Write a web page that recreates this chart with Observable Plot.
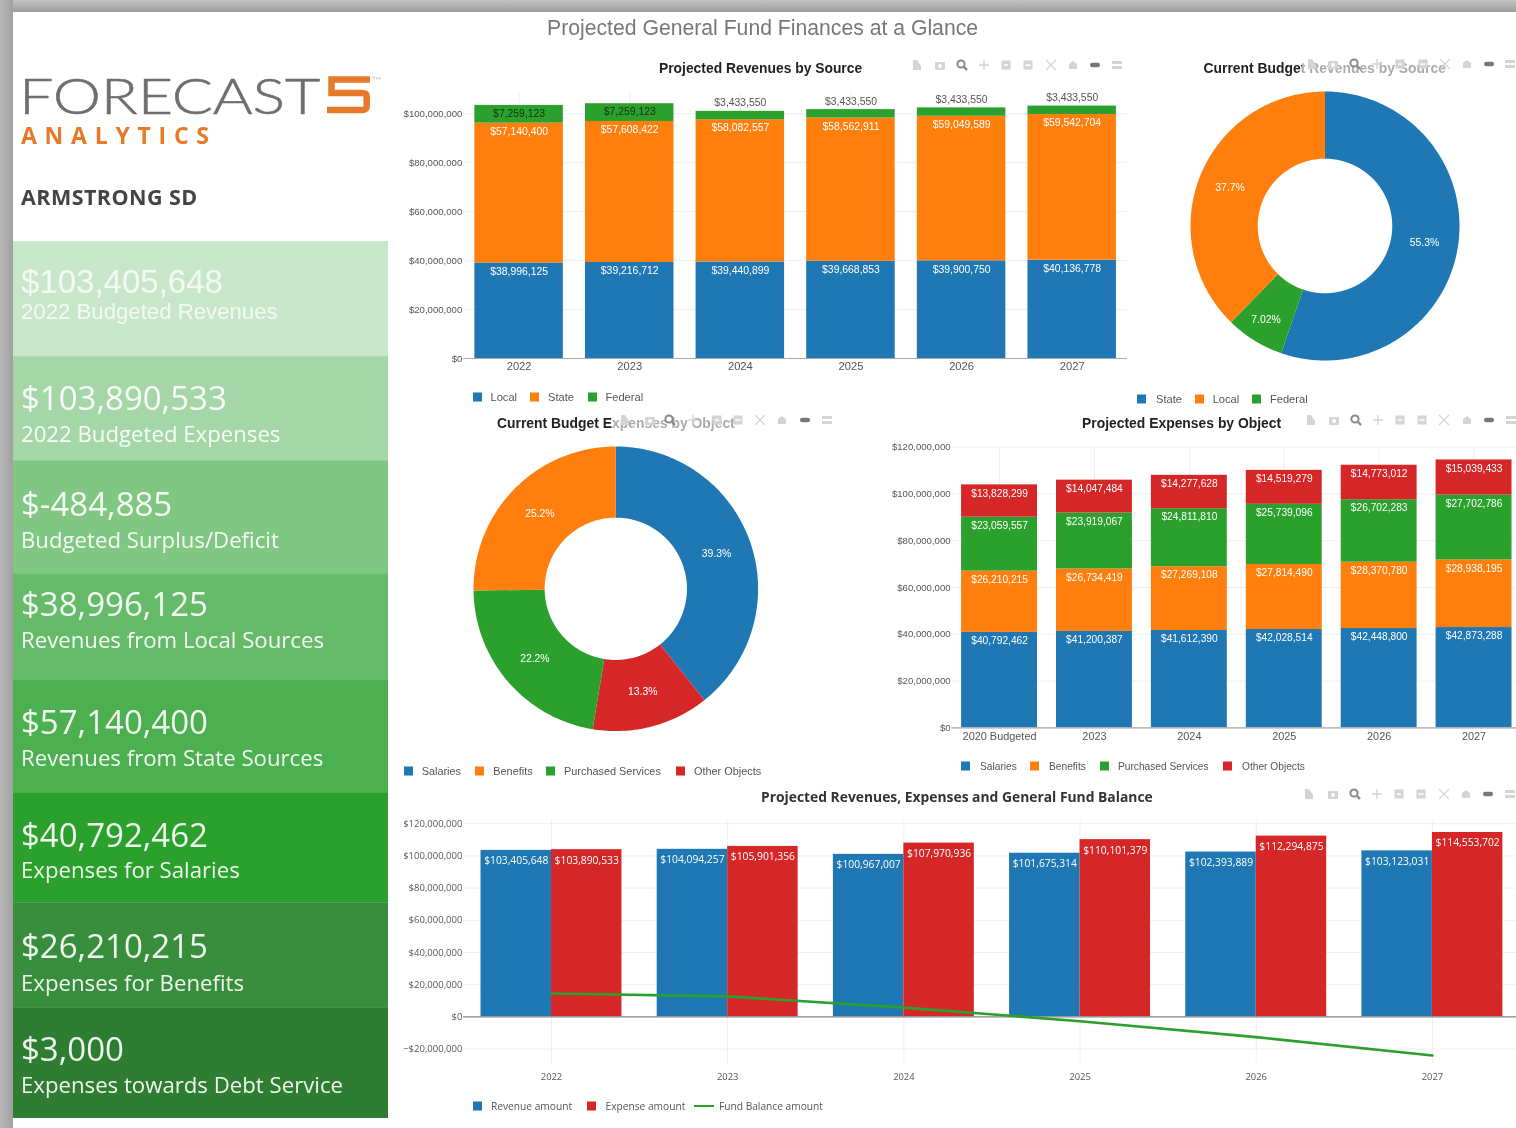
<!DOCTYPE html>
<html>
<head>
<meta charset="utf-8">
<script src="https://cdn.jsdelivr.net/npm/d3@7"></script>
<script src="https://cdn.jsdelivr.net/npm/@observablehq/plot@0.6"></script>
<style>
html,body{margin:0;padding:0;background:#fff;width:1516px;height:1128px;overflow:hidden}
#root{position:relative;width:1516px;height:1128px;overflow:hidden;filter:blur(.6px);font-family:"Liberation Sans",Arial,sans-serif}
.abs{position:absolute;white-space:nowrap;line-height:1;transform:translateY(-50%)}
.chart{position:absolute}
.chart svg{display:block;background:transparent;overflow:visible;max-width:none !important}
.panel{position:absolute;left:13px;width:375px;box-sizing:border-box;border-top:1px solid rgba(255,255,255,.14)}
.sq{position:absolute;width:9px;height:9px;transform:translateY(-50%)}
</style>
</head>
<body>
<div id="root"></div>
<script>
// ---------- data ----------
const blue = "#1f77b4", orange = "#ff7f0e", green = "#2ca02c", red = "#d62728";

const revenueYears = ["2022", "2023", "2024", "2025", "2026", "2027"];
const revenueLocal = [38996125, 39216712, 39440899, 39668853, 39900750, 40136778];
const revenueState = [57140400, 57608422, 58082557, 58562911, 59049589, 59542704];
const revenueFederal = [7259123, 7259123, 3433550, 3433550, 3433550, 3433550];

const expenseYears = ["2020 Budgeted", "2023", "2024", "2025", "2026", "2027"];
const expenseSalaries = [40792462, 41200387, 41612390, 42028514, 42448800, 42873288];
const expenseBenefits = [26210215, 26734419, 27269108, 27814490, 28370780, 28938195];
const expensePurchased = [23059557, 23919067, 24811810, 25739096, 26702283, 27702786];
const expenseOther = [13828299, 14047484, 14277628, 14519279, 14773012, 15039433];

const balanceYears = ["2022", "2023", "2024", "2025", "2026", "2027"];
const revenueAmount = [103405648, 104094257, 100967007, 101675314, 102393889, 103123031];
const expenseAmount = [103890533, 105901356, 107970936, 110101379, 112294875, 114553702];
const fundBalance = [14500000, 12700000, 5700000, -2700000, -12600000, -24000000];

const donutRevenueNames = ["State", "Federal", "Local"];
const donutRevenueValues = [55.3, 7.02, 37.7];
const donutRevenueColors = [blue, green, orange];

const donutExpenseNames = ["Salaries", "Other Objects", "Purchased Services", "Benefits"];
const donutExpenseValues = [39.3, 13.3, 22.2, 25.2];
const donutExpenseColors = [blue, red, green, orange];

const panelValues = ["$103,405,648", "$103,890,533", "$-484,885", "$38,996,125", "$57,140,400", "$40,792,462", "$26,210,215", "$3,000"];
const panelLabels = ["2022 Budgeted Revenues", "2022 Budgeted Expenses", "Budgeted Surplus/Deficit", "Revenues from Local Sources", "Revenues from State Sources", "Expenses for Salaries", "Expenses for Benefits", "Expenses towards Debt Service"];
const panelColors = ["#c8e6c9", "#a5d6a7", "#81c784", "#66bb6a", "#4caf50", "#2ca02c", "#388e3c", "#2e7d32"];
const panelTops = [241, 356, 460, 573, 679, 792, 902, 1006.5, 1118];
const panelValueY = [281, 397, 503, 603, 721, 834, 945, 1048];
const panelLabelY = [312, 434, 540, 640, 758, 870, 983, 1085];

// ---------- helpers ----------
const root = document.getElementById("root");
const SANS = "'Liberation Sans',Arial,sans-serif";
const OPEN = "'Open Sans','Noto Sans',sans-serif";
const fmt = d3.format("$,");
const GRID = "#efefef";

function el(html) { const t = document.createElement("template"); t.innerHTML = html.trim(); const n = t.content.firstChild; root.appendChild(n); return n; }
function label(text, x, y, size, color, font = SANS, weight = 400, extra = "") {
  return el(`<div class="abs" style="left:${x}px;top:${y}px;font:${weight} ${size}px/1 ${font};color:${color};${extra}">${text}</div>`);
}
function fitted(text, x, y, size, color, font, weight, targetWidth, extra = "") {
  const n = label(text, x, y, size, color, font, weight, extra);
  const w = n.offsetWidth;
  n.style.letterSpacing = ((targetWidth - w) / (text.length - 1)) + "px";
  return n;
}
function place(svg, x, y) { const d = document.createElement("div"); d.className = "chart"; d.style.left = x + "px"; d.style.top = y + "px"; d.appendChild(svg); root.appendChild(d); }
function legend(items, y, size, font = SANS) {
  for (const it of items) {
    if (it.line) el(`<div style="position:absolute;left:${it.sx}px;top:${y - 1.2}px;width:20px;height:2.5px;background:${it.color}"></div>`);
    else el(`<div class="sq" style="left:${it.sx}px;top:${y}px;background:${it.color}"></div>`);
    label(it.name, it.tx, y + (font === SANS ? 0.7 : 0), size, "#555", font);
  }
}
function modebar(xs, y) {
  const shapes = [
    c => `<path d="M-4 5V-5H0L4 1V5Z" fill="${c}"/>`,
    c => `<rect x="-5" y="-3" width="10" height="8" rx="1" fill="${c}"/><circle cy="1" r="2" fill="#fff"/>`,
    () => `<circle cx="-1" cy="-1" r="3.6" fill="none" stroke="#888" stroke-width="2"/><path d="M2 2L5 5" stroke="#888" stroke-width="2.4"/>`,
    c => `<path d="M0-5V5M-5 0H5" stroke="${c}" stroke-width="1.4"/>`,
    c => `<rect x="-4.5" y="-4.5" width="9" height="9" fill="${c}"/><rect x="-2" y="-.7" width="4" height="1.6" fill="#fff"/>`,
    c => `<rect x="-4.5" y="-4.5" width="9" height="9" fill="${c}"/><rect x="-2.6" y="-.7" width="5.2" height="1.6" fill="#fff"/>`,
    c => `<path d="M-5-5L5 5M5-5L-5 5" stroke="${c}" stroke-width="1.2"/>`,
    c => `<path d="M-4 4V-1L0-4 4-1V4Z" fill="${c}"/>`,
    () => `<rect x="-5" y="-2.2" width="10" height="4.4" rx="2.2" fill="#777"/>`,
    c => `<rect x="-5" y="-4" width="10" height="3" fill="${c}"/><rect x="-5" y="1" width="10" height="3" fill="${c}"/>`
  ];
  xs.forEach((x, i) => {
    el(`<svg style="position:absolute;left:${x - 7}px;top:${y - 7}px" width="14" height="14" viewBox="-7 -7 14 14">${shapes[i]("#d4d4d4")}</svg>`);
  });
}

function stackRows(years, series) {
  const rows = [];
  years.forEach((year, i) => {
    let base = 0;
    for (const s of series) { rows.push({year, name: s.name, value: s.values[i], y1: base, y2: base + s.values[i]}); base += s.values[i]; }
  });
  return rows;
}

function stackChart({x, y, width, height, marginLeft, marginTop, marginBottom, years, series, maxY, ticks, labelMark, xFont = 11.2}) {
  const rows = stackRows(years, series);
  return place(Plot.plot({
    width, height, marginLeft, marginRight: 0, marginTop, marginBottom,
    style: {fontFamily: SANS, background: "transparent"},
    x: {type: "band", domain: years, paddingInner: 0.2, paddingOuter: 0.1, round: false, label: null},
    y: {domain: [0, maxY], label: null},
    color: {domain: series.map(s => s.name), range: series.map(s => s.color)},
    marks: [
      Plot.ruleY(ticks, {stroke: GRID, strokeWidth: 1}),
      Plot.ruleX(years, {stroke: GRID, strokeWidth: 1}),
      Plot.barY(rows, {x: "year", y1: "y1", y2: "y2", fill: "name"}),
      Plot.ruleY([0], {stroke: "#aaa", strokeWidth: 1.2}),
      Plot.axisY({ticks, tickFormat: fmt, tickSize: 0, tickPadding: 1.5, fontSize: 9.6, color: "#555", label: null}),
      Plot.axisX({tickSize: 0, tickPadding: 4, fontSize: xFont, color: "#555", label: null}),
      ...labelMark(rows)
    ]
  }), x, y);
}

function donut({x, y, r, names, values, colors, fontSize = 10.4, nudge = {}}) {
  const total = d3.sum(values);
  let a = 0;
  const slices = names.map((name, i) => { const s = {name, value: values[i], a0: a, a1: a + values[i] / total * 2 * Math.PI}; a = s.a1; return s; });
  const hole = 0.5, pts = [];
  for (const s of slices) {
    const steps = d3.range(0, 1.0001, 1 / Math.ceil((s.a1 - s.a0) * 50)).map(t => s.a0 + t * (s.a1 - s.a0));
    for (const t of steps) pts.push({name: s.name, px: Math.sin(t), py: Math.cos(t)});
    for (const t of steps.slice().reverse()) pts.push({name: s.name, px: hole * Math.sin(t), py: hole * Math.cos(t)});
  }
  const mid = slices.map(s => {
    const t = (s.a0 + s.a1) / 2, m = (1 + hole) / 2, [nx, ny] = nudge[s.name] || [0, 0];
    return {px: m * Math.sin(t) + nx / r, py: m * Math.cos(t) - ny / r, text: s.value + "%"};
  });
  place(Plot.plot({
    width: 2 * r, height: 2 * r, margin: 0,
    style: {fontFamily: SANS, background: "transparent"},
    x: {domain: [-1, 1], axis: null},
    y: {domain: [-1, 1], axis: null},
    color: {domain: names, range: colors},
    marks: [
      Plot.line(pts, {x: "px", y: "py", z: "name", fill: "name", stroke: "none"}),
      Plot.text(mid, {x: "px", y: "py", text: "text", fill: "#fff", fontSize})
    ]
  }), x - r, y - r);
}

// ---------- frame ----------
el(`<div style="position:absolute;left:0;top:0;width:1516px;height:12px;background:linear-gradient(#c4c4c4,#a9a9a9 70%,#9c9c9c)"></div>`);
el(`<div style="position:absolute;left:0;top:0;width:12.5px;height:1128px;background:linear-gradient(90deg,#b8b8b8,#a0a0a0)"></div>`);

// ---------- left column ----------
const logoWord = fitted("FORECAST", 19, 94.5, 50, "#6d6e71", "Lato,'Open Sans',sans-serif", 300, 301 / 1.22, "-webkit-text-stroke:.5px #6d6e71");
logoWord.style.transformOrigin = "0 50%";
logoWord.style.transform = "translateY(-50%) scaleX(1.22)";
el(`<svg style="position:absolute;left:320px;top:70px" width="70" height="50" viewBox="320 70 70 50">
  <path d="M370 79.5H331.5V93H362Q366.7 93 366.7 97V106Q366.7 110 362 110H327" fill="none" stroke="#e8792b" stroke-width="6.5"/>
  <path d="M372 77H376M374 77V80M377 80V77L378.5 79 380 77V80" fill="none" stroke="#bbb" stroke-width=".6"/>
</svg>`);
fitted("ANALYTICS", 21, 135, 23, "#e8792b", OPEN, 700, 188);
fitted("ARMSTRONG SD", 21, 196.5, 21.5, "#444", OPEN, 700, 176);

panelColors.forEach((c, i) => {
  el(`<div class="panel" style="top:${panelTops[i]}px;height:${panelTops[i + 1] - panelTops[i]}px;background:${c}"></div>`);
  const first = i === 0;
  const col = first ? "rgba(255,255,255,.78)" : "rgba(255,255,255,.92)";
  label(panelValues[i], 21, panelValueY[i], 33, col, first ? SANS : OPEN);
  label(panelLabels[i], 21, panelLabelY[i], 22.2, col, first ? SANS : OPEN);
});

// ---------- titles ----------
label("Projected General Fund Finances at a Glance", 547, 28, 21.2, "#777");
label("Projected Revenues by Source", 659, 68.8, 13.85, "#222", SANS, 700);
label("Current Budget Revenues by Source", 1203.5, 68.8, 13.9, "#222", SANS, 700);
label("Current Budget Expenses by Object", 497, 423.8, 13.9, "#222", SANS, 700);
label("Projected Expenses by Object", 1082, 423.8, 13.9, "#222", SANS, 700);
label("Projected Revenues, Expenses and General Fund Balance", 761, 797, 13.85, "#333", OPEN, 700);

// ---------- chart 1: revenues by source ----------
stackChart({
  x: 395, y: 85, width: 732, height: 300, marginLeft: 68.3, marginTop: 7, marginBottom: 27,
  years: revenueYears, maxY: 108660000, ticks: d3.range(0, 100000001, 20000000),
  series: [
    {name: "Local", values: revenueLocal, color: blue},
    {name: "State", values: revenueState, color: orange},
    {name: "Federal", values: revenueFederal, color: green}
  ],
  labelMark: rows => {
    const inside = rows.filter(d => d.name !== "Federal");
    const fed = rows.filter(d => d.name === "Federal");
    const opts = {x: "year", y: "y2", text: d => fmt(d.value), fontSize: 10.4};
    return [
      Plot.text(inside, {...opts, dy: 8.4, fill: "#fff"}),
      Plot.text(fed.filter(d => d.value > 5000000), {...opts, dy: 8.4, fill: "#14330f"}),
      Plot.text(fed.filter(d => d.value <= 5000000), {...opts, dy: -8.4, fill: "#555"})
    ];
  }
});
legend([
  {name: "Local", color: blue, sx: 473, tx: 490.5},
  {name: "State", color: orange, sx: 530, tx: 548},
  {name: "Federal", color: green, sx: 588, tx: 605.5}
], 397, 11.1);
modebar([917, 940, 962, 984, 1006, 1028, 1051, 1073, 1095, 1117], 64.5);

// ---------- chart 2: current revenue donut ----------
donut({x: 1324.3, y: 225, r: 134.5, names: donutRevenueNames, values: donutRevenueValues, colors: donutRevenueColors, nudge: {Federal: [-6, 8], Local: [-1.5, 0]}});
legend([
  {name: "State", color: blue, sx: 1137, tx: 1156},
  {name: "Local", color: orange, sx: 1195, tx: 1212.7},
  {name: "Federal", color: green, sx: 1252, tx: 1270}
], 399, 11.1);
el(`<div style="position:absolute;left:1302px;top:56px;width:214px;height:20px;background:rgba(255,255,255,.62)"></div>`);
modebar([1312, 1333, 1355, 1377, 1400, 1423, 1445, 1467, 1489, 1510], 64);

// ---------- chart 3: current expense donut ----------
donut({x: 615, y: 587.8, r: 142.3, names: donutExpenseNames, values: donutExpenseValues, colors: donutExpenseColors});
legend([
  {name: "Salaries", color: blue, sx: 403.5, tx: 421.7},
  {name: "Benefits", color: orange, sx: 474.5, tx: 493.3},
  {name: "Purchased Services", color: green, sx: 545.5, tx: 564},
  {name: "Other Objects", color: red, sx: 675.5, tx: 694}
], 770.5, 10.9);
el(`<div style="position:absolute;left:612px;top:412px;width:225px;height:20px;background:rgba(255,255,255,.62)"></div>`);
modebar([625, 650, 670, 693, 717, 738, 760, 782, 805, 827], 420);

// ---------- chart 4: expenses by object ----------
stackChart({
  x: 885, y: 440, width: 636, height: 310, marginLeft: 66.6, marginTop: 6.7, marginBottom: 22.7,
  years: expenseYears, maxY: 120000000, ticks: d3.range(0, 120000001, 20000000), xFont: 10.9,
  series: [
    {name: "Salaries", values: expenseSalaries, color: blue},
    {name: "Benefits", values: expenseBenefits, color: orange},
    {name: "Purchased Services", values: expensePurchased, color: green},
    {name: "Other Objects", values: expenseOther, color: red}
  ],
  labelMark: rows => [Plot.text(rows, {x: "year", y: "y2", text: d => fmt(d.value), dy: 8.4, fill: "#fff", fontSize: 10.2})]
});
legend([
  {name: "Salaries", color: blue, sx: 961, tx: 980},
  {name: "Benefits", color: orange, sx: 1030, tx: 1049},
  {name: "Purchased Services", color: green, sx: 1099.5, tx: 1118},
  {name: "Other Objects", color: red, sx: 1223, tx: 1242}
], 766, 10.2);
modebar([1311, 1334, 1356, 1378, 1400, 1422, 1444, 1467, 1489, 1511], 420);

// ---------- chart 5: revenues, expenses, fund balance ----------
const rowsBalance = balanceYears.map((year, i) => ({year, rev: revenueAmount[i], exp: expenseAmount[i], fund: fundBalance[i]}));
const bw5 = 140.96;
place(Plot.plot({
  width: 1125, height: 310, marginLeft: 67.9, marginRight: 0, marginTop: 40, marginBottom: 27,
  style: {fontFamily: OPEN, background: "transparent"},
  x: {type: "band", domain: balanceYears, paddingInner: 0.2, paddingOuter: 0.1, round: false, label: null},
  y: {domain: [-29000000, 122000000], label: null},
  marks: [
    Plot.ruleY(d3.range(-20000000, 120000001, 20000000), {stroke: GRID}),
    Plot.ruleX(balanceYears, {stroke: GRID}),
    Plot.barY(rowsBalance, {x: "year", y: "rev", fill: blue, insetRight: bw5 / 2}),
    Plot.barY(rowsBalance, {x: "year", y: "exp", fill: red, insetLeft: bw5 / 2}),
    Plot.ruleY([0], {stroke: "#888", strokeWidth: 1.2}),
    Plot.line(rowsBalance, {x: "year", y: "fund", stroke: green, strokeWidth: 2.6}),
    Plot.text(rowsBalance, {x: "year", y: "rev", text: d => fmt(d.rev), dx: -bw5 / 4, dy: 10.7, fill: "#fff", fontSize: 10.3}),
    Plot.text(rowsBalance, {x: "year", y: "exp", text: d => fmt(d.exp), dx: bw5 / 4, dy: 10.7, fill: "#fff", fontSize: 10.3}),
    Plot.axisY({ticks: d3.range(-20000000, 120000001, 20000000), tickFormat: fmt, tickSize: 0, tickPadding: 1, fontSize: 9.5, color: "#555", label: null}),
    Plot.axisX({anchor: "bottom", tickSize: 0, tickPadding: 9.5, fontSize: 9.4, color: "#555", label: null})
  ]
}), 395, 780);
legend([
  {name: "Revenue amount", color: blue, sx: 472.5, tx: 491},
  {name: "Expense amount", color: red, sx: 586.8, tx: 605.5},
  {name: "Fund Balance amount", color: green, line: true, sx: 694, tx: 719}
], 1106, 10.2, OPEN);
modebar([1309, 1333, 1355, 1377, 1399, 1421, 1443.5, 1466, 1488, 1510], 794);
</script>
</body>
</html>
